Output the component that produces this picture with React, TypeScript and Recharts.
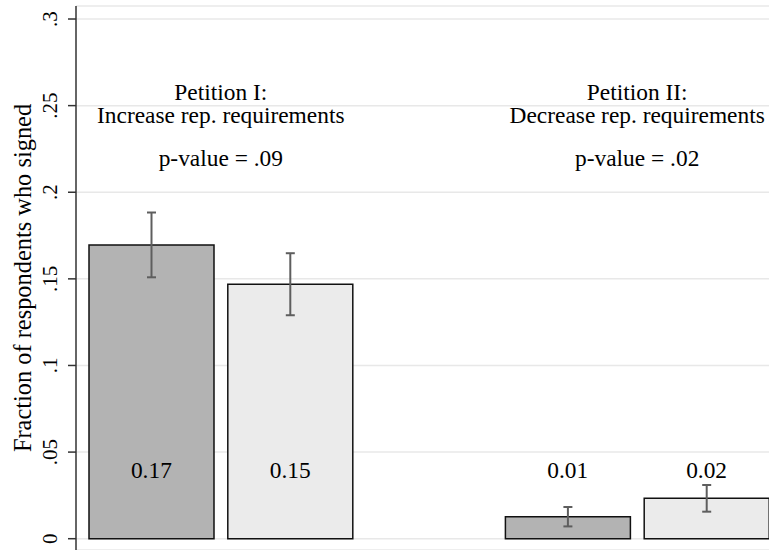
import React from 'react';
import {
  BarChart,
  Bar,
  XAxis,
  YAxis,
  CartesianGrid,
  ErrorBar,
  Cell,
  ReferenceArea,
  ReferenceDot,
} from 'recharts';

// ---- data ----
const categories = ['I-first', 'I-second', 'spacer', 'II-first', 'II-second'];
const fractions: (number | null)[] = [0.1696, 0.1469, null, 0.0127, 0.0233];
const errors: (number | null)[] = [0.0187, 0.0179, null, 0.0056, 0.0077];
const valueLabels = ['0.17', '0.15', '', '0.01', '0.02'];
const yTicks = [0, 0.05, 0.1, 0.15, 0.2, 0.25, 0.3];
const yTickLabels = ['0', '.05', '.1', '.15', '.2', '.25', '.3'];
const petitionGroups = [
  ['I-first', 'I-second'],
  ['II-first', 'II-second'],
];
const petitionTitles = ['Petition I:', 'Petition II:'];
const petitionSubtitles = ['Increase rep. requirements', 'Decrease rep. requirements'];
const pValueTexts = ['p-value = .09', 'p-value = .02'];
const yTitle = 'Fraction of respondents who signed';

// annotation anchor values (data units)
const titleLineY = 0.2582;
const subtitleLineY = 0.2445;
const pValueLineY = 0.22;
const valueLabelY = 0.04;

// ---- styles ----
const FONT = "'Liberation Serif', 'Times New Roman', serif";
const barFills = ['#b3b3b3', '#ebebeb', '#ffffff', '#b3b3b3', '#ebebeb'];

const data = categories.map((c, i) => ({
  category: c,
  fraction: fractions[i],
  err: errors[i],
}));

const YTick = (props: any) => {
  const { x, y, payload } = props;
  const idx = yTicks.findIndex((t) => Math.abs(t - payload.value) < 1e-9);
  const label = idx >= 0 ? yTickLabels[idx] : String(payload.value);
  return (
    <text
      x={x}
      y={y}
      transform={`rotate(-90, ${x}, ${y})`}
      textAnchor="middle"
      fontFamily={FONT}
      fontSize={21}
      fill="#000"
    >
      {label}
    </text>
  );
};

const YTitle = (props: any) => {
  const vb = props.viewBox || { x: 0, y: 6, width: 76, height: 544 };
  const x = vb.x + 31;
  const y = vb.y + vb.height / 2;
  return (
    <text
      x={x}
      y={y}
      transform={`rotate(-90, ${x}, ${y})`}
      textAnchor="middle"
      fontFamily={FONT}
      fontSize={24.4}
      fill="#000"
    >
      {yTitle}
    </text>
  );
};

const CenterText = (props: any) => {
  const vb = props.viewBox || { x: 0, y: 0, width: 0, height: 0 };
  const x = vb.x + vb.width / 2;
  const y = vb.y + vb.height / 2;
  return (
    <text
      x={x}
      y={y}
      dy="0.35em"
      textAnchor="middle"
      fontFamily={FONT}
      fontSize={23.4}
      fill="#000"
    >
      {props.text}
    </text>
  );
};

export default function App() {
  return (
    <div
      style={{
        position: 'absolute',
        left: 0,
        top: 0,
        width: 769,
        height: 550,
        overflow: 'hidden',
        background: '#fff',
      }}
    >
      <BarChart
        width={776}
        height={550}
        data={data}
        margin={{ top: 6, right: 0, bottom: 0, left: 0 }}
      >
        <CartesianGrid
          vertical={false}
          stroke="#e8e8e8"
          strokeWidth={1.5}
        />
        <XAxis dataKey="category" hide padding={{ left: 6, right: 0 }} />
        <YAxis
          width={76}
          domain={[-0.00652, 0.30751]}
          ticks={yTicks}
          interval={0}
          allowDataOverflow
          axisLine={{ stroke: '#333', strokeWidth: 1.5 }}
          tickLine={{ stroke: '#333', strokeWidth: 1.5 }}
          tickSize={8}
          tickMargin={11}
          tick={<YTick />}
          label={<YTitle />}
        />
        <Bar
          dataKey="fraction"
          barSize={125}
          stroke="#111"
          strokeWidth={1.5}
          isAnimationActive={false}
        >
          {data.map((d, i) => (
            <Cell key={d.category} fill={barFills[i]} />
          ))}
          <ErrorBar
            dataKey="err"
            direction="y"
            width={4.5}
            stroke="#5e5e5e"
            strokeWidth={2}
          />
        </Bar>
        {petitionGroups.map((g, i) => (
          <ReferenceArea
            key={'title' + i}
            x1={g[0]}
            x2={g[1]}
            y1={titleLineY - 0.003}
            y2={titleLineY + 0.003}
            fill="none"
            stroke="none"
            ifOverflow="visible"
            label={<CenterText text={petitionTitles[i]} />}
          />
        ))}
        {petitionGroups.map((g, i) => (
          <ReferenceArea
            key={'sub' + i}
            x1={g[0]}
            x2={g[1]}
            y1={subtitleLineY - 0.003}
            y2={subtitleLineY + 0.003}
            fill="none"
            stroke="none"
            ifOverflow="visible"
            label={<CenterText text={petitionSubtitles[i]} />}
          />
        ))}
        {petitionGroups.map((g, i) => (
          <ReferenceArea
            key={'p' + i}
            x1={g[0]}
            x2={g[1]}
            y1={pValueLineY - 0.003}
            y2={pValueLineY + 0.003}
            fill="none"
            stroke="none"
            ifOverflow="visible"
            label={<CenterText text={pValueTexts[i]} />}
          />
        ))}
        {categories.map((c, i) =>
          valueLabels[i] ? (
            <ReferenceDot
              key={'v' + i}
              x={c}
              y={valueLabelY}
              r={1}
              fill="none"
              stroke="none"
              ifOverflow="visible"
              label={<CenterText text={valueLabels[i]} />}
            />
          ) : null
        )}
      </BarChart>
    </div>
  );
}
